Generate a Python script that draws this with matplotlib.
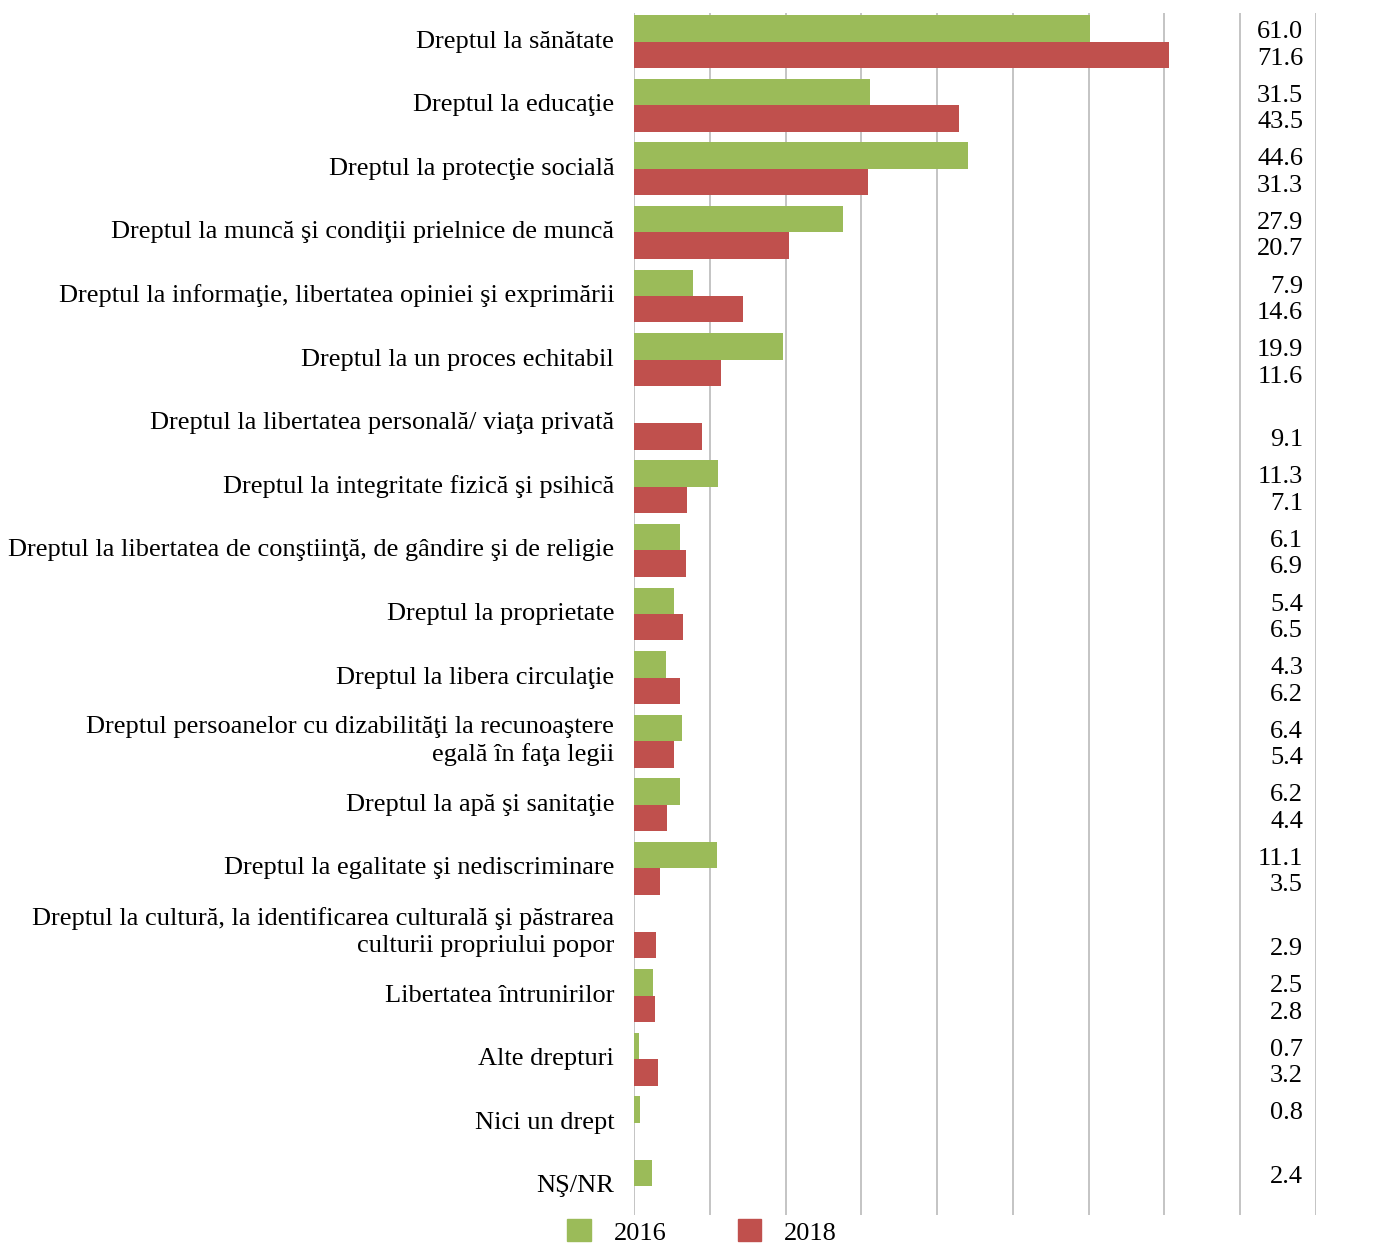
import matplotlib
matplotlib.use("Agg")
import matplotlib.pyplot as plt
import numpy as np
from matplotlib.patches import Patch

# Categories and values (percent)
categories = [
    "Dreptul la sănătate",
    "Dreptul la educaţie",
    "Dreptul la protecţie socială",
    "Dreptul la muncă şi condiţii prielnice de muncă",
    "Dreptul la informaţie, libertatea opiniei şi exprimării",
    "Dreptul la un proces echitabil",
    "Dreptul la libertatea personală/ viaţa privată",
    "Dreptul la integritate fizică şi psihică",
    "Dreptul la libertatea de conştiinţă, de gândire şi de religie",
    "Dreptul la proprietate",
    "Dreptul la libera circulaţie",
    "Dreptul persoanelor cu dizabilităţi la recunoaştere\negală în faţa legii",
    "Dreptul la apă şi sanitaţie",
    "Dreptul la egalitate şi nediscriminare",
    "Dreptul la cultură, la identificarea culturală şi păstrarea\nculturii propriului popor",
    "Libertatea întrunirilor",
    "Alte drepturi",
    "Nici un drept",
    "NŞ/NR",
]
v2016 = [61.0, 31.5, 44.6, 27.9, 7.9, 19.9, np.nan, 11.3, 6.1, 5.4,
         4.3, 6.4, 6.2, 11.1, np.nan, 2.5, 0.7, 0.8, 2.4]
v2018 = [71.6, 43.5, 31.3, 20.7, 14.6, 11.6, 9.1, 7.1, 6.9, 6.5,
         6.2, 5.4, 4.4, 3.5, 2.9, 2.8, 3.2, np.nan, np.nan]
series_names = ["2016", "2018"]

green = "#9BBB59"
red = "#C0504D"
grid_col = "#BFBFBF"
fs = 19

plt.rcParams["font.family"] = ["Liberation Serif", "DejaVu Serif"]

fig = plt.figure(figsize=(13.86, 12.47), dpi=100)
ax = fig.add_axes([0.4574, 0.0257, 0.4921, 0.9639])

y = np.arange(len(categories))
h = 0.416
a16 = np.array(v2016)
a18 = np.array(v2018)
ax.barh(y - h / 2, np.nan_to_num(a16), height=h, color=green, zorder=3)
ax.barh(y + h / 2, np.nan_to_num(a18), height=h, color=red, zorder=3)

xmax = 91.2
ax.set_xlim(0, xmax)
ax.set_ylim(len(categories) - 0.55, -0.45)
ax.set_xticks(np.linspace(0, xmax, 10))
ax.xaxis.grid(True, color=grid_col, linewidth=1.3, zorder=0)
ax.tick_params(axis="both", length=0, labelbottom=False, labelleft=False)
for s in ["top", "right", "bottom", "left"]:
    ax.spines[s].set_visible(False)

# category labels
for yi, lab in zip(y, categories):
    ax.text(-0.029, yi, lab, transform=ax.get_yaxis_transform(),
            ha="right", va="center", fontsize=fs, linespacing=1.25)

# value column (data table on the right)
tx = 0.981
dy = 0.06
for yi, a, b in zip(y, a16, a18):
    if not np.isnan(a):
        ax.text(tx, yi - h / 2 + dy, f"{a:.1f}", transform=ax.get_yaxis_transform(),
                ha="right", va="center", fontsize=fs)
    if not np.isnan(b):
        ax.text(tx, yi + h / 2 + dy, f"{b:.1f}", transform=ax.get_yaxis_transform(),
                ha="right", va="center", fontsize=fs)

handles = [Patch(color=green), Patch(color=red)]
fig.legend(handles, series_names, loc="lower center", bbox_to_anchor=(0.5065, 0.002),
           ncol=2, frameon=False, fontsize=fs, handlelength=0.9, handleheight=0.9,
           handletextpad=0.85, columnspacing=2.7, borderaxespad=0, borderpad=0)

fig.savefig("out.png", dpi=100)
